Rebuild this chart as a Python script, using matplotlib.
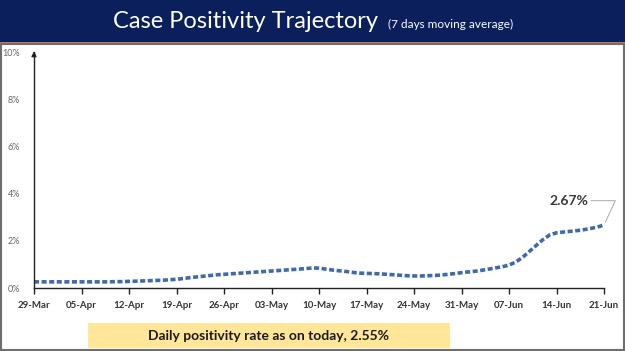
import matplotlib
matplotlib.use("Agg")
import matplotlib.pyplot as plt
from matplotlib.patches import Rectangle
import numpy as np

plt.rcParams['font.family'] = ['Lato', 'DejaVu Sans']

tick_labels = ["29-Mar", "05-Apr", "12-Apr", "19-Apr", "26-Apr", "03-May", "10-May",
               "17-May", "24-May", "31-May", "07-Jun", "14-Jun", "21-Jun"]
y_labels = ["0%", "2%", "4%", "6%", "8%", "10%"]

# daily 7-day moving average positivity (%), 29-Mar .. 21-Jun
positivity = [
    0.26, 0.26, 0.26, 0.26, 0.26, 0.26, 0.26, 0.26, 0.26, 0.26, 0.26, 0.26, 0.27, 0.27, 0.28,
    0.29, 0.30, 0.31, 0.32, 0.33, 0.35, 0.37,
    0.40, 0.44, 0.47, 0.50, 0.53, 0.56, 0.58,
    0.60, 0.62, 0.64, 0.66, 0.68, 0.70, 0.72,
    0.74, 0.76, 0.78, 0.80, 0.82, 0.85, 0.84,
    0.80, 0.76, 0.73, 0.70, 0.66, 0.63, 0.62,
    0.61, 0.60, 0.58, 0.56, 0.54, 0.52, 0.51,
    0.51, 0.52, 0.53, 0.55, 0.58, 0.61, 0.65,
    0.68, 0.71, 0.75, 0.80, 0.85, 0.90, 0.97,
    1.10, 1.30, 1.55, 1.80, 2.05, 2.25, 2.34,
    2.37, 2.40, 2.43, 2.47, 2.52, 2.58, 2.67,
]
last_label = "2.67%"
title_main = "Case Positivity Trajectory"
title_sub = "(7 days moving average)"
footer = "Daily positivity rate as on today, 2.55%"

W, H = 625, 351
fig = plt.figure(figsize=(W / 100, H / 100), dpi=100)
fig.patch.set_facecolor("white")

# background decorations (figure pixel coords)
bg = fig.add_axes([0, 0, 1, 1])
bg.set_xlim(0, W)
bg.set_ylim(H, 0)
bg.axis("off")
bg.add_patch(Rectangle((0, 0), W, 42, facecolor="#0B1F5C", edgecolor="none"))
bg.add_patch(Rectangle((0, 42), W, 1.5, facecolor="#C8794A", edgecolor="none"))
bg.add_patch(Rectangle((1, 43.5), W - 2.5, H - 45, facecolor="none", edgecolor="#6E6E6E", lw=1.5))
bg.add_patch(Rectangle((88, 323), 362, 25, facecolor="#FFE699", edgecolor="none"))
bg.text(113, 28.5, title_main, color="white", fontsize=17, va="baseline", ha="left")
bg.text(388, 28.5, title_sub, color="white", fontsize=8.5, va="baseline", ha="left")
bg.text(269, 335.5, footer, color="#1A1A1A", fontsize=10, fontweight="bold",
        va="center", ha="center")

ax = fig.add_axes([34 / W, 1 - 288 / H, (604 - 34) / W, (288 - 52) / H])
ax.set_facecolor("none")
x = np.arange(len(positivity))
ax.plot(x, positivity, color="#4169AE", lw=2.6, linestyle=(0, (1.4, 0.7)),
        solid_capstyle="butt", dash_capstyle="butt")
ax.set_xlim(0, len(positivity) - 1)
ax.set_ylim(0, 10)
ax.set_xticks(np.arange(0, len(positivity), 7))
ax.set_xticklabels(tick_labels)
ax.set_yticks(np.arange(0, 11, 2))
ax.set_yticklabels(y_labels)
for s in ["top", "right"]:
    ax.spines[s].set_visible(False)
ax.spines["left"].set_color("#222222")
ax.spines["bottom"].set_color("#222222")
ax.spines["left"].set_linewidth(1.0)
ax.spines["bottom"].set_linewidth(1.0)
ax.tick_params(axis="x", direction="out", length=4, width=1, color="#222222",
               labelsize=7, labelcolor="#333333", pad=5)
ax.tick_params(axis="y", length=0, labelsize=6.5, labelcolor="#666666", pad=10)
for lab in ax.get_xticklabels():
    lab.set_fontweight("bold")
ax.annotate("", xy=(0, 10.15), xytext=(0, 9.7),
            arrowprops=dict(arrowstyle="-|>", color="#222222", lw=1, mutation_scale=7),
            annotation_clip=False)
ax.annotate(last_label, xy=(x[-1], positivity[-1]), xytext=(x[-1] - 5.2, 3.7),
            fontsize=10, fontweight="bold", color="#3A3A3A", ha="center", va="center",
            arrowprops=dict(arrowstyle="-", color="#AAAAAA", lw=0.7,
                            connectionstyle="angle,angleA=0,angleB=65,rad=0",
                            shrinkA=0, shrinkB=2))

fig.savefig("out.png", dpi=100)
